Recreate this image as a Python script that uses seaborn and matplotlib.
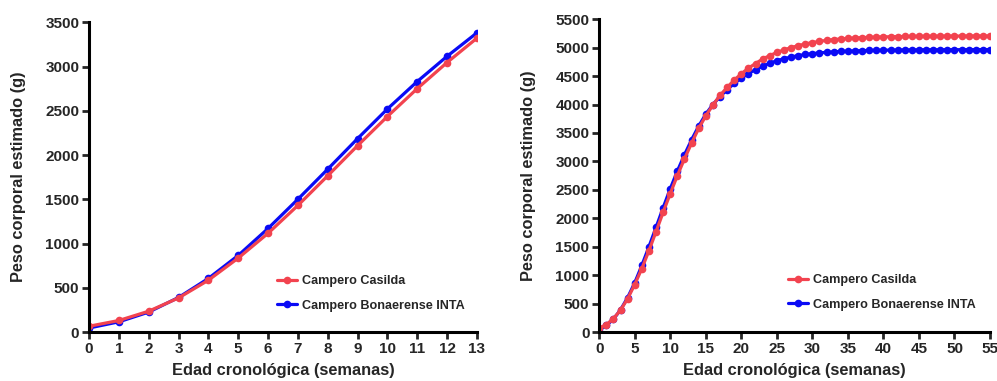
import pandas as pd
import matplotlib.pyplot as plt
import seaborn as sns

# estimated body weight (g) per week
weeks = list(range(0, 56))
casilda = [65, 130, 235, 385, 585, 835, 1115, 1430, 1765, 2105,
           2435, 2750, 3045, 3320, 3580, 3800, 3990, 4160, 4300, 4430,
           4540, 4640, 4720, 4800, 4860, 4915, 4960, 5000, 5035, 5065,
           5090, 5110, 5128, 5142, 5153, 5162, 5170, 5176, 5181, 5185,
           5189, 5192, 5194, 5196, 5198, 5199, 5200, 5201, 5202, 5203,
           5203, 5204, 5204, 5205, 5205, 5205]
inta = [45, 115, 225, 390, 605, 865, 1170, 1500, 1840, 2185,
        2520, 2830, 3115, 3380, 3620, 3830, 4000, 4140, 4260, 4370,
        4465, 4545, 4615, 4675, 4725, 4770, 4805, 4835, 4860, 4880,
        4895, 4908, 4918, 4926, 4933, 4939, 4943, 4947, 4950, 4953,
        4955, 4957, 4958, 4959, 4960, 4961, 4962, 4962, 4963, 4963,
        4964, 4964, 4964, 4965, 4965, 4965]
series_names = ["Campero Casilda", "Campero Bonaerense INTA"]
palette = {"Campero Casilda": "#F2434F", "Campero Bonaerense INTA": "#0A0AF5"}

df = pd.concat([
    pd.DataFrame({"week": weeks, "peso": casilda, "linea": series_names[0]}),
    pd.DataFrame({"week": weeks, "peso": inta, "linea": series_names[1]}),
], ignore_index=True)

sns.set_style("ticks")
plt.rcParams["font.family"] = ["Liberation Sans", "DejaVu Sans"]
plt.rcParams["font.weight"] = "bold"
plt.rcParams["axes.labelweight"] = "bold"

fig = plt.figure(figsize=(9.97, 3.81), dpi=100)
ax1 = fig.add_axes([0.0893, 0.1286, 0.389, 0.813])
ax2 = fig.add_axes([0.601, 0.1286, 0.392, 0.821])

def draw(ax, data, xmax, xstep, ymax, ystep, leg_anchor):
    sns.lineplot(data=data, x="week", y="peso", hue="linea", hue_order=series_names[::-1],
                 palette=palette, marker="o", markersize=5.5, markeredgewidth=0,
                 linewidth=2.3, ax=ax)
    ax.set_xlim(0, xmax)
    ax.set_ylim(0, ymax)
    ax.set_xticks(range(0, xmax + 1, xstep))
    ax.set_yticks(range(0, ymax + 1, ystep))
    ax.set_xlabel("Edad cronológica (semanas)", fontsize=11.8, labelpad=5)
    ax.set_ylabel("Peso corporal estimado (g)", fontsize=11.8, labelpad=14)
    ax.tick_params(labelsize=11, width=2, length=5, pad=2)
    for s in ["left", "bottom"]:
        ax.spines[s].set_linewidth(2.2)
        ax.spines[s].set_color("black")
    for s in ["top", "right"]:
        ax.spines[s].set_visible(False)
    for lab in ax.get_xticklabels() + ax.get_yticklabels():
        lab.set_fontweight("bold")
    handles, labels = ax.get_legend_handles_labels()
    order = [labels.index(n) for n in series_names]
    ax.legend([handles[i] for i in order], [labels[i] for i in order],
              loc="upper left", bbox_to_anchor=leg_anchor, frameon=False,
              borderpad=0, borderaxespad=0, handlelength=1.6, handletextpad=0.4,
              labelspacing=1.0, prop={"weight": "bold", "size": 9.1})

draw(ax1, df[df["week"] <= 13], 13, 1, 3500, 500, (0.485, 0.184))
draw(ax2, df, 55, 5, 5500, 500, (0.483, 0.185))

plt.savefig("out.png", dpi=100)
plt.close()
